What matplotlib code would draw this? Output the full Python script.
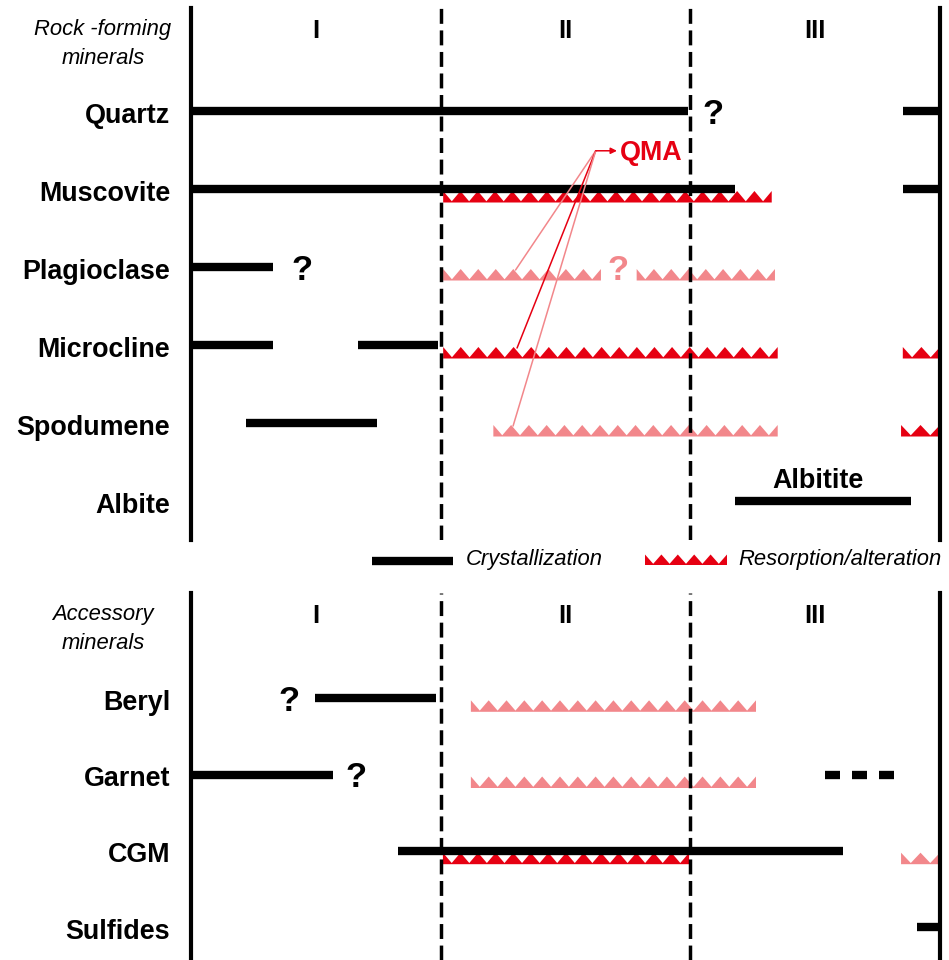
import matplotlib
matplotlib.use("Agg")
import matplotlib.pyplot as plt
from matplotlib.patches import Polygon

plt.rcParams["font.family"] = ["Liberation Sans", "DejaVu Sans"]

RED = "#E60012"
PINK = "#F2878B"
COLORS = {"strong": RED, "weak": PINK, "black": "black"}

# pixel scale of the original figure (used to size marks, not to place data)
STAGE_PX = 249.67
TOP_ROW_PX = 78.0
BOT_ROW_PX = 76.2

# ---------------------------------------------------------------------------
# Data (x in stage units: 0 = start of stage I, 3 = end of stage III)
# ---------------------------------------------------------------------------
STAGES = ["I", "II", "III"]
TOP_MINERALS = ["Quartz", "Muscovite", "Plagioclase", "Microcline", "Spodumene", "Albite"]
BOT_MINERALS = ["Beryl", "Garnet", "CGM", "Sulfides"]

TOP_CRYST = [
    ("Quartz", 0.00, 1.99, "solid"), ("Quartz", 2.852, 3.00, "solid"),
    ("Muscovite", 0.00, 2.179, "solid"), ("Muscovite", 2.852, 3.00, "solid"),
    ("Plagioclase", 0.00, 0.328, "solid"),
    ("Microcline", 0.00, 0.328, "solid"), ("Microcline", 0.669, 0.989, "solid"),
    ("Spodumene", 0.22, 0.745, "solid"),
    ("Albite", 2.179, 2.884, "solid"),
]
TOP_RESORB = [
    ("Muscovite", 1.01, 2.326, "strong"),
    ("Plagioclase", 1.01, 1.642, "weak"), ("Plagioclase", 1.785, 2.339, "weak"),
    ("Microcline", 1.01, 2.35, "strong"), ("Microcline", 2.851, 3.00, "strong"),
    ("Spodumene", 1.211, 2.35, "weak"), ("Spodumene", 2.844, 3.00, "strong"),
]
TOP_UNCERTAIN = [("Quartz", 2.09, "black"), ("Plagioclase", 0.445, "black"),
                 ("Plagioclase", 1.71, "weak")]

BOT_CRYST = [
    ("Beryl", 0.497, 0.981, "solid"),
    ("Garnet", 0.00, 0.569, "solid"), ("Garnet", 2.539, 2.816, "dashed"),
    ("CGM", 0.829, 2.611, "solid"),
    ("Sulfides", 2.908, 3.00, "solid"),
]
BOT_RESORB = [
    ("Beryl", 1.121, 2.263, "weak"),
    ("Garnet", 1.121, 2.263, "weak"),
    ("CGM", 1.009, 1.995, "strong"), ("CGM", 2.844, 3.00, "weak"),
]
BOT_UNCERTAIN = [("Beryl", 0.393, "black"), ("Garnet", 0.661, "black")]

# QMA (quartz-muscovite aggregates) pointers: origin, arrow tip, targets
QMA_ORIGIN = (1.621, 0.51)
QMA_TIP_X = 1.706
QMA_TARGETS = [("Plagioclase", 1.300, "weak"), ("Microcline", 1.306, "strong"),
               ("Spodumene", 1.290, "weak")]
ALBITITE = ("Albitite", 2.511, "Albite")


# ---------------------------------------------------------------------------
# Helpers
# ---------------------------------------------------------------------------
def zigzag(ax, x0, x1, y_base, height, period, base_th, color, zorder=2):
    """Row of upward triangles standing on a thin base strip (y axis inverted)."""
    n = max(1, round((x1 - x0) / period))
    p = (x1 - x0) / n
    xs, ys = [x0], [y_base - height]
    for k in range(n):
        xs += [x0 + (k + 0.5) * p, x0 + (k + 1) * p]
        ys += [y_base - base_th, y_base - height]
    xs += [x1, x0]
    ys += [y_base, y_base]
    ax.add_patch(Polygon(list(zip(xs, ys)), closed=True, facecolor=color,
                         edgecolor="none", zorder=zorder))


def cap_text(ax, x, y, s, row_px, size, frac=0.716, **kw):
    """Place text so that its capital letters are vertically centred on y."""
    off = frac * size * 100 / 72 / 2 / row_px
    ax.text(x, y + off, s, fontsize=size, va="baseline", clip_on=False, **kw)


def draw_panel(ax, minerals, cryst, resorb, uncertain, row_px, header):
    rows = {m: i for i, m in enumerate(minerals)}
    # frame lines
    for x in (0, 3):
        ax.axvline(x, color="black", lw=3.0, clip_on=False, zorder=5)
    for x in (1, 2):
        ax.axvline(x, color="black", lw=2.5, dashes=(4.3, 1.9), zorder=6)

    for m, x0, x1, style in cryst:
        kw = dict(dashes=(1.8, 1.44), dash_capstyle="butt") if style == "dashed" else {}
        ax.plot([x0, x1], [rows[m], rows[m]], color="black", lw=6,
                solid_capstyle="butt", zorder=4, **kw)

    for m, x0, x1, kind in resorb:
        y = rows[m]
        zigzag(ax, x0, x1, y + 13.5 / row_px, 11.5 / row_px, 17.4 / STAGE_PX,
               1.2 / row_px, COLORS[kind])

    for m, x, kind in uncertain:
        cap_text(ax, x, rows[m], "?", row_px, 25, frac=0.74, ha="center",
                 fontweight="bold", color=COLORS[kind])

    for m, y in rows.items():
        cap_text(ax, -0.084, y + 2 / row_px, m, row_px, 19.4, ha="right",
                 fontweight="bold")

    y_num = -1.05 if row_px == TOP_ROW_PX else -1.106
    for i, s in enumerate(STAGES):
        cap_text(ax, i + 0.5, y_num, s, row_px, 18.4, ha="center", fontweight="bold")

    h1, h2 = header
    ax.text(-0.3525, y_num, h1, fontsize=15.8, style="italic", ha="center",
            va="center", clip_on=False)
    ax.text(-0.3525, y_num + 29 / row_px, h2, fontsize=15.8, style="italic",
            ha="center", va="center", clip_on=False)
    return rows


# ---------------------------------------------------------------------------
# Figure
# ---------------------------------------------------------------------------
W, H = 949, 960
fig = plt.figure(figsize=(W / 100, H / 100), dpi=100)

ax_top = fig.add_axes([191 / W, 1 - 540 / H, 749 / W, 532 / H])
ax_top.set_xlim(0, 3)
ax_top.set_ylim((540 - 111) / TOP_ROW_PX, (8 - 111) / TOP_ROW_PX)
ax_top.set_axis_off()

ax_bot = fig.add_axes([191 / W, 0, 749 / W, 367 / H])
ax_bot.set_xlim(0, 3)
ax_bot.set_ylim((960 - 698.3) / BOT_ROW_PX, (593 - 698.3) / BOT_ROW_PX)
ax_bot.set_axis_off()

top_rows = draw_panel(ax_top, TOP_MINERALS, TOP_CRYST, TOP_RESORB, TOP_UNCERTAIN,
                      TOP_ROW_PX, ("Rock -forming", "minerals"))
draw_panel(ax_bot, BOT_MINERALS, BOT_CRYST, BOT_RESORB, BOT_UNCERTAIN,
           BOT_ROW_PX, ("Accessory", "minerals"))

# Albitite label
name, xa, row_name = ALBITITE
cap_text(ax_top, xa, top_rows[row_name] - 23 / TOP_ROW_PX, name, TOP_ROW_PX, 19.4,
         ha="center", fontweight="bold")

# QMA pointers
ox, oy = QMA_ORIGIN
for m, tx, kind in QMA_TARGETS:
    ax_top.plot([ox, tx], [oy, top_rows[m] + 3 / TOP_ROW_PX], color=COLORS[kind],
                lw=1.1, zorder=7, solid_capstyle="round")
ax_top.annotate("", xy=(QMA_TIP_X, oy), xytext=(ox, oy),
                arrowprops=dict(arrowstyle="-|>", color=RED, lw=1.1,
                                mutation_scale=9, shrinkA=0, shrinkB=0), zorder=7)
cap_text(ax_top, QMA_TIP_X + 0.012, oy, "QMA", TOP_ROW_PX, 19.4, ha="left",
         fontweight="bold", color=RED)

# Legend strip between the panels
ax_leg = fig.add_axes([0, 1 - 580 / H, 1, 40 / H])
ax_leg.set_xlim(0, W)
ax_leg.set_ylim(580, 540)
ax_leg.set_axis_off()
ax_leg.plot([372, 453], [561, 561], color="black", lw=6, solid_capstyle="butt")
ax_leg.text(466, 560, "Crystallization", fontsize=15.8, style="italic",
            ha="left", va="center")
zigzag(ax_leg, 645, 727, 565, 10.5, 16.4, 1.2, RED)
ax_leg.text(738, 560, "Resorption/alteration", fontsize=15.8, style="italic",
            ha="left", va="center")

fig.savefig("out.png", dpi=100, facecolor="white")
